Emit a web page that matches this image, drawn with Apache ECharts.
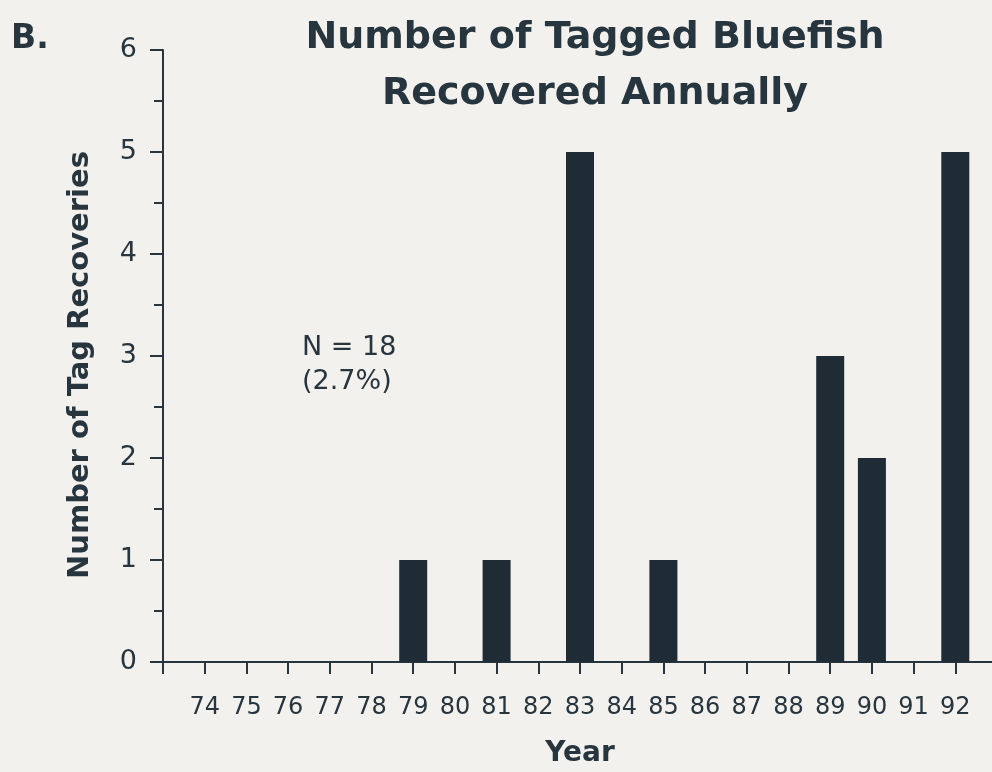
<!DOCTYPE html>
<html>
<head>
<meta charset="utf-8">
<script src="https://cdn.jsdelivr.net/npm/echarts@6/dist/echarts.min.js"></script>
<style>
html,body{margin:0;padding:0;background:#f2f1ed;}
#main{width:992px;height:772px;}
</style>
</head>
<body>
<div id="main"></div>
<script>
var years = ['', '74','75','76','77','78','79','80','81','82','83','84','85','86','87','88','89','90','91','92', ''];
var recoveries = ['-', 0,0,0,0,0,1,0,1,0,5,0,1,0,0,0,3,2,0,5, '-'];
var yTicks = [0, 6, 1];
var titleText = 'Number of Tagged Bluefish\nRecovered Annually';
var panelLabel = 'B.';
var noteText = 'N = 18\n(2.7%)';

var ink = '#27353f';
var barInk = '#1f2c35';
var font = 'DejaVu Sans';

var chart = echarts.init(document.getElementById('main'));
chart.setOption({
  backgroundColor: '#f2f1ed',
  animation: false,
  textStyle: {fontFamily: font, color: ink},
  title: [
    {text: titleText, left: 590, top: 5, textAlign: 'center',
     textStyle: {fontFamily: font, fontSize: 38, fontWeight: 'bold', color: ink, lineHeight: 56}},
    {text: panelLabel, left: 6, top: 18,
     textStyle: {fontFamily: font, fontSize: 33, fontWeight: 'bold', color: ink}}
  ],
  grid: {left: 163, width: 834, top: 50, bottom: 110, outerBoundsMode: 'none', containLabel: false},
  xAxis: {
    type: 'category',
    data: years,
    boundaryGap: false,
    name: 'Year',
    nameLocation: 'middle',
    nameGap: 78,
    nameTextStyle: {fontFamily: font, fontSize: 28, fontWeight: 'bold', color: ink},
    axisLine: {lineStyle: {color: ink, width: 2}},
    axisTick: {show: true, length: 12, alignWithLabel: true, lineStyle: {color: ink, width: 2}},
    axisLabel: {margin: 34, fontFamily: font, fontSize: 24, color: ink, interval: 0},
    splitLine: {show: false}
  },
  yAxis: {
    type: 'value',
    min: yTicks[0], max: yTicks[1], interval: yTicks[2],
    name: 'Number of Tag Recoveries',
    nameLocation: 'middle',
    nameGap: 68,
    nameRotate: 90,
    nameTextStyle: {fontFamily: font, fontSize: 29, fontWeight: 'bold', color: ink, padding: [0, 18, 0, 0]},
    axisLine: {show: true, lineStyle: {color: ink, width: 2}},
    axisTick: {show: true, length: 13, lineStyle: {color: ink, width: 2}},
    minorTick: {show: true, splitNumber: 2, length: 9, lineStyle: {color: ink, width: 2}},
    axisLabel: {margin: 26, fontFamily: font, fontSize: 27, color: ink},
    splitLine: {show: false}
  },
  series: [{
    type: 'bar',
    data: recoveries,
    barWidth: 28,
    itemStyle: {color: barInk}
  }],
  graphic: [{
    type: 'text',
    left: 302, top: 331,
    style: {text: noteText, fontFamily: font, fontSize: 27, fill: ink, align: 'center', lineHeight: 34, x: 50}
  }]
});
</script>
</body>
</html>
